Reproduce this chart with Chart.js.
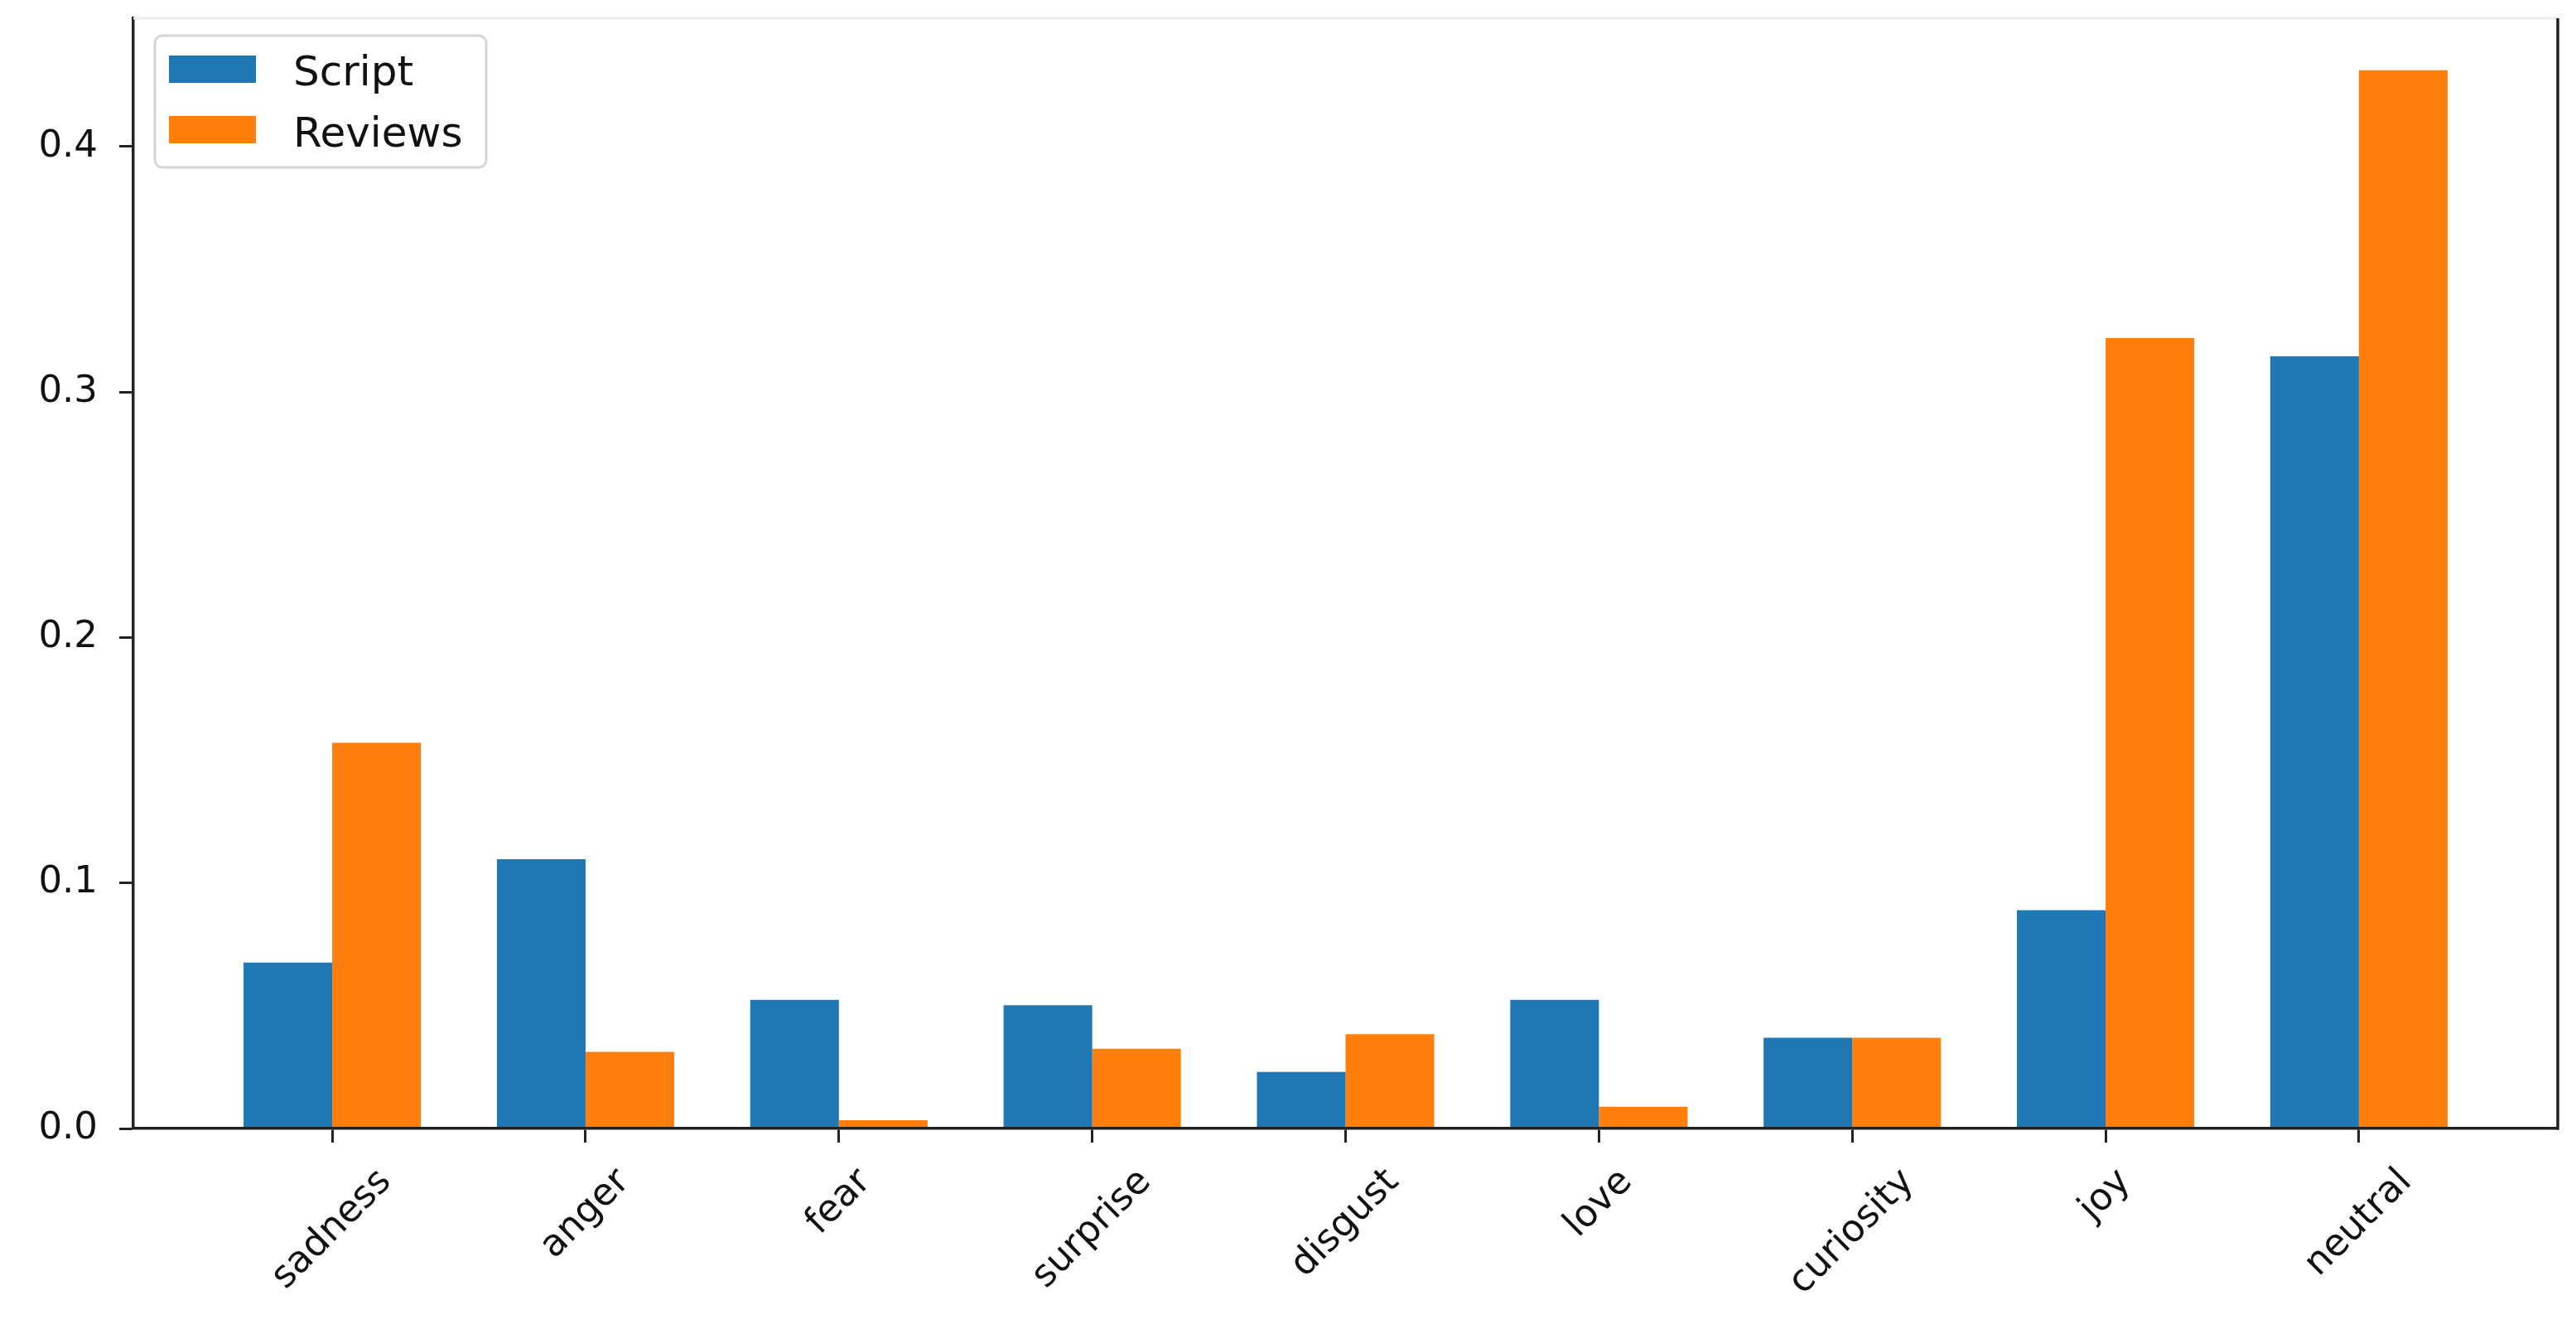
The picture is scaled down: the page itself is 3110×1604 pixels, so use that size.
<!DOCTYPE html>
<html lang="en">
<head>
  <meta charset="UTF-8" />
  <title>Emotion share - Script vs Reviews</title>
  <script src="https://cdn.jsdelivr.net/npm/chart.js"></script>
  <style>
    html, body { margin: 0; padding: 0; background: #fff; }
  </style>
</head>
<body>
  <canvas id="emotionChart" width="3110" height="1604"></canvas>

  <script>
    // values
    const emotions = ['sadness', 'anger', 'fear', 'surprise', 'disgust', 'love', 'curiosity', 'joy', 'neutral'];
    const scriptShare = [0.0676, 0.1097, 0.0524, 0.0502, 0.0230, 0.0524, 0.0370, 0.0889, 0.3146];
    const reviewShare = [0.1571, 0.0312, 0.0034, 0.0325, 0.0384, 0.0089, 0.0370, 0.3220, 0.4311];
    const seriesNames = ['Script', 'Reviews'];
    const seriesColors = ['#1f77b4', '#ff7f0e'];
    const yTicks = [0.0, 0.1, 0.2, 0.3, 0.4];

    const FONT = '"DejaVu Sans", "Liberation Sans", sans-serif';
    const FONT_PX = 45;
    const LEGEND_PX = 50;
    const INK = '#111';

    // spines, rotated category labels and the in-axes legend
    const extras = {
      id: 'extras',
      afterDraw(chart) {
        const ctx = chart.ctx;
        const ca = chart.chartArea;
        const xs = chart.scales.x;

        ctx.save();
        // top spine (very faint in the reference) and right spine
        ctx.lineWidth = 3;
        ctx.strokeStyle = '#ececec';
        ctx.beginPath();
        ctx.moveTo(ca.left, ca.top);
        ctx.lineTo(ca.right, ca.top);
        ctx.stroke();
        ctx.strokeStyle = '#222';
        ctx.lineWidth = 3.5;
        ctx.beginPath();
        ctx.moveTo(ca.right, ca.top);
        ctx.lineTo(ca.right, ca.bottom + 1.5);
        ctx.stroke();

        // x labels, rotated 45deg, bounding box centred on the tick
        ctx.font = FONT_PX + 'px ' + FONT;
        ctx.fillStyle = INK;
        ctx.textAlign = 'center';
        ctx.textBaseline = 'middle';
        emotions.forEach((name, i) => {
          const px = xs.getPixelForValue(i);
          const w = ctx.measureText(name).width;
          const h = FONT_PX * 1.164;
          const side = (w + h) * Math.SQRT1_2;
          const cy = ca.bottom + 17 + 22 + side / 2;
          ctx.save();
          ctx.translate(px, cy);
          ctx.rotate(-Math.PI / 4);
          ctx.fillText(name, 0, 0);
          ctx.restore();
        });

        // legend
        const lx = ca.left + 26, ly = ca.top + 21, lw = 400, lh = 159;
        ctx.beginPath();
        ctx.roundRect(lx, ly, lw, lh, 9);
        ctx.fillStyle = 'rgba(255,255,255,0.8)';
        ctx.fill();
        ctx.lineWidth = 3;
        ctx.strokeStyle = '#d6d6d6';
        ctx.stroke();
        ctx.font = LEGEND_PX + 'px ' + FONT;
        ctx.textAlign = 'left';
        ctx.textBaseline = 'alphabetic';
        chart.data.datasets.forEach((ds, i) => {
          ctx.fillStyle = ds.backgroundColor;
          ctx.fillRect(lx + 17, ly + 24 + i * 73, 105, 33);
          ctx.fillStyle = INK;
          ctx.fillText(ds.label, lx + 167, ly + 60 + i * 74);
        });
        ctx.restore();
      }
    };

    const seriesValues = [scriptShare, reviewShare];

    new Chart(document.getElementById('emotionChart').getContext('2d'), {
      type: 'bar',
      data: {
        datasets: seriesNames.map((name, s) => ({
          label: name,
          data: seriesValues[s].map((v, i) => ({ x: i, y: v })),
          backgroundColor: seriesColors[s],
          borderWidth: 0,
          categoryPercentage: 0.7,
          barPercentage: 1.0
        }))
      },
      options: {
        responsive: false,
        devicePixelRatio: 1,
        animation: false,
        layout: { padding: { top: 22, right: 22, left: 0, bottom: 0 } },
        plugins: {
          legend: { display: false },
          tooltip: { enabled: false }
        },
        scales: {
          x: {
            type: 'linear',
            offset: false,
            min: -0.785,
            max: 8.785,
            afterBuildTicks: s => { s.ticks = emotions.map((_, i) => ({ value: i })); },
            afterFit: s => { s.height = 242; s.paddingLeft = 0; s.paddingRight = 0; },
            ticks: { display: false },
            grid: { offset: false, drawOnChartArea: false, tickLength: 17, tickWidth: 3, tickColor: '#222' },
            border: { color: '#222', width: 3.5, z: 1 }
          },
          y: {
            min: 0,
            max: 0.4523,
            afterBuildTicks: s => { s.ticks = yTicks.map(v => ({ value: v })); },
            afterFit: s => { s.width = 161; s.paddingTop = 0; s.paddingBottom = 0; },
            ticks: {
              font: { family: FONT, size: FONT_PX },
              color: INK,
              padding: 26,
              callback: v => v.toFixed(1)
            },
            grid: { drawOnChartArea: false, tickLength: 17, tickWidth: 3, tickColor: '#222' },
            border: { color: '#222', width: 3.5, z: 1 }
          }
        }
      },
      plugins: [extras]
    });
  </script>
</body>
</html>
